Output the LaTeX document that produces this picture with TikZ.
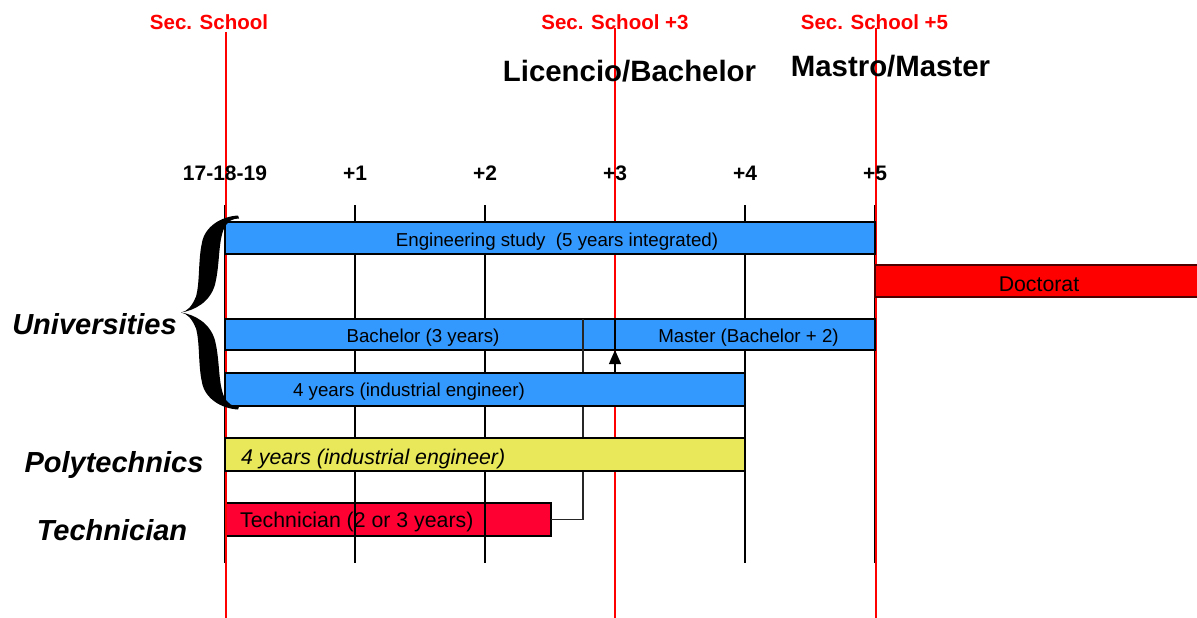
\documentclass[tikz,border=0pt]{standalone}
\usepackage{fontspec}
\setmainfont{Liberation Sans}
\usetikzlibrary{arrows.meta}
\definecolor{barblue}{RGB}{51,153,255}
\definecolor{baryellow}{RGB}{232,232,90}
\definecolor{techred}{RGB}{255,0,51}
\definecolor{docred}{RGB}{255,0,0}
\newcommand{\fsz}[1]{\fontsize{#1}{#1}\selectfont}
\begin{document}
\begin{tikzpicture}[x=1pt,y=-1pt,
  bar/.style={draw=black, line width=1.2pt, inner sep=0pt, outer sep=0pt, anchor=north west},
  bartext/.style={inner sep=0pt, font={\fsz{18.7}}},
  bigbartext/.style={inner sep=0pt, font={\fsz{21.3}}},
  toplabel/.style={text=red, inner sep=0pt, font={\bfseries\fsz{20.5}}},
  degree/.style={inner sep=0pt, font={\bfseries\fsz{29.4}}},
  ticklabel/.style={inner sep=0pt, font={\bfseries\fsz{21}}},
  sidelabel/.style={inner sep=0pt, font={\bfseries\itshape\fsz{29}}},
  gridline/.style={black, line width=1.1pt},
  schoolline/.style={red, line width=1.2pt},
  connector/.style={black!85, line width=1.3pt}
]
\useasboundingbox (0,0) rectangle (1197,618);
% technician bar (grid lines are drawn over it)
\node[bar, fill=techred, minimum width=326pt, minimum height=33pt] (tech) at (225,503) {};
% grid
\foreach \x in {225,355,485,615,745,875} \draw[gridline] (\x,205) -- (\x,563);
% secondary school lines
\draw[schoolline] (226,32) -- (226,618);
\draw[schoolline] (615,28) -- (615,618);
\draw[schoolline] (876,28) -- (876,618);
% bars
\node[bar, fill=barblue, minimum width=650pt, minimum height=32pt] (eng) at (225,222) {};
\node[bar, fill=docred, draw=black!70!red, minimum width=323pt, minimum height=32pt] (doc) at (875,265) {};
\node[bar, fill=barblue, minimum width=390pt, minimum height=31pt] (bach) at (225,319) {};
\node[bar, fill=barblue, minimum width=260pt, minimum height=31pt] (mast) at (615,319) {};
% connector technician -> master
\coordinate (cj) at (583,319);
\draw[connector] (tech.east) -| (cj);
\node[bar, fill=barblue, minimum width=520pt, minimum height=33pt] (four) at (225,373) {};
\node[bar, fill=baryellow, minimum width=520pt, minimum height=33pt] (poly) at (225,438) {};
% arrow 4 years -> master
\draw[black, line width=1.2pt, -{Triangle[length=14pt,width=12pt]}] (four.north -| mast.south west) -- (mast.south west);
% bar texts
\node[bartext] (engt) at (557,242) {Engineering study\ \ (5 years integrated)};
\node[bigbartext] (doct) at (1039,284) {Doctorat};
\node[bartext] (bacht) at (423,338) {Bachelor (3 years)};
\node[bartext] (mastt) at (748.5,338) {Master (Bachelor + 2)};
\node[bartext] (fourt) at (409,392) {4 years (industrial engineer)};
\node[bigbartext, font={\itshape\fsz{21.3}}, anchor=west] (polyt) at (241,459) {4 years (industrial engineer)};
\node[bigbartext, anchor=west] (techt) at (240,522) {Technician (2 or 3 years)};
% top labels
\node[toplabel] (s0) at (209,22) {Sec. School};
\node[toplabel] (s3) at (615,22) {Sec. School +3};
\node[toplabel] (s5) at (874.5,22) {Sec. School +5};
\node[degree] (lic) at (629.5,71) {Licencio/Bachelor};
\node[degree] (mas) at (890.5,66) {Mastro/Master};
% ticks
\node[ticklabel] (t0) at (225,173) {17-18-19};
\node[ticklabel] (t1) at (355,173) {+1};
\node[ticklabel] (t2) at (485,173) {+2};
\node[ticklabel] (t3) at (615,173) {+3};
\node[ticklabel] (t4) at (745,173) {+4};
\node[ticklabel] (t5) at (875,173) {+5};
% side labels
\node[sidelabel] (uni) at (94.5,324) {Universities};
\node[sidelabel] (pol) at (114,465) {Polytechnics};
\node[sidelabel] (tec) at (112,530) {Technician};
% brace
\begin{scope}[shift={(181,312.5)}]
  \fill[black] (57,-97) .. controls (40,-96) and (24,-86) .. (21,-70)
     .. controls (17,-52) and (19,-30) .. (15,-16)
     .. controls (11,-6) and (6,-1) .. (0,0)
     .. controls (13,-2) and (29,-10) .. (34,-28)
     .. controls (39,-48) and (37,-70) .. (43,-84)
     .. controls (47,-92) and (52,-94) .. (58,-94) -- cycle;
  \begin{scope}[yscale=-1]
  \fill[black] (57,-97) .. controls (40,-96) and (24,-86) .. (21,-70)
     .. controls (17,-52) and (19,-30) .. (15,-16)
     .. controls (11,-6) and (6,-1) .. (0,0)
     .. controls (13,-2) and (29,-10) .. (34,-28)
     .. controls (39,-48) and (37,-70) .. (43,-84)
     .. controls (47,-92) and (52,-94) .. (58,-94) -- cycle;
  \end{scope}
\end{scope}
\end{tikzpicture}
\end{document}
